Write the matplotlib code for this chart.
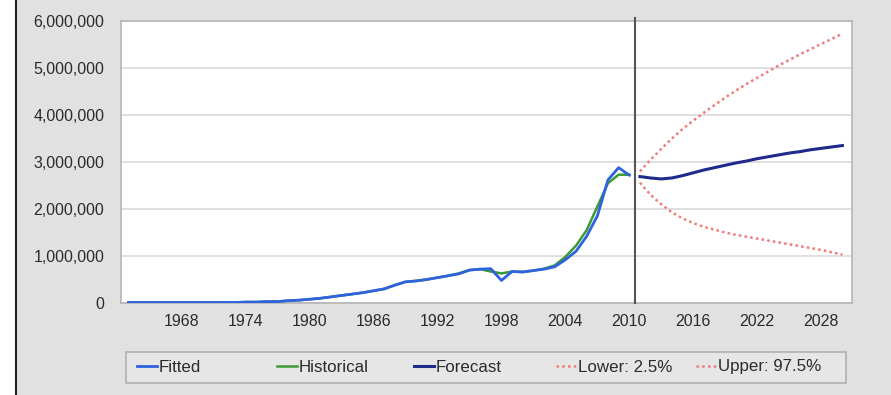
import matplotlib.pyplot as plt
from matplotlib.ticker import FuncFormatter
from matplotlib.patches import Rectangle
from matplotlib.lines import Line2D

plt.rcParams['font.family'] = ['Liberation Sans', 'DejaVu Sans']

# yearly history, 1963-2010
hist_years = list(range(1963, 2011))
historical = [0.01, 0.01, 0.01, 0.01, 0.01, 0.01, 0.01, 0.01, 0.01, 0.01,
              0.01, 0.02, 0.02, 0.03, 0.03, 0.05, 0.06, 0.08, 0.10, 0.13,
              0.16, 0.19, 0.22, 0.26, 0.30, 0.38, 0.45, 0.47, 0.50, 0.54,
              0.58, 0.63, 0.70, 0.72, 0.67, 0.63, 0.67, 0.66, 0.69, 0.73,
              0.80, 0.98, 1.22, 1.55, 2.05, 2.55, 2.73, 2.73]
fitted = [0.01, 0.01, 0.01, 0.01, 0.01, 0.01, 0.01, 0.01, 0.01, 0.01,
          0.01, 0.02, 0.02, 0.03, 0.03, 0.05, 0.06, 0.08, 0.10, 0.13,
          0.16, 0.19, 0.22, 0.26, 0.30, 0.38, 0.45, 0.47, 0.50, 0.54,
          0.58, 0.62, 0.70, 0.72, 0.73, 0.48, 0.67, 0.66, 0.69, 0.72,
          0.77, 0.92, 1.10, 1.42, 1.85, 2.62, 2.88, 2.72]

# forecast with 95% band, 2011-2030
fc_years = list(range(2011, 2031))
forecast = [2.69, 2.66, 2.64, 2.66, 2.71, 2.77, 2.83, 2.88, 2.93, 2.98,
            3.02, 3.07, 3.11, 3.15, 3.19, 3.22, 3.26, 3.29, 3.32, 3.35]
lower = [2.56, 2.30, 2.10, 1.93, 1.80, 1.70, 1.62, 1.56, 1.50, 1.45,
         1.41, 1.37, 1.33, 1.29, 1.25, 1.21, 1.17, 1.13, 1.08, 1.03]
upper = [2.80, 3.05, 3.28, 3.50, 3.70, 3.88, 4.05, 4.21, 4.37, 4.52,
         4.66, 4.79, 4.92, 5.05, 5.17, 5.29, 5.40, 5.51, 5.62, 5.73]

xticks = [1968, 1974, 1980, 1986, 1992, 1998, 2004, 2010, 2016, 2022, 2028]
yticks = [0, 1, 2, 3, 4, 5, 6]

scale = 1e6
bg = '#e1e1e1'
text_color = '#2b2b2b'
fs = 11.5

fig = plt.figure(figsize=(8.91, 3.95), dpi=100)
fig.patch.set_facecolor(bg)

# white strip and dark rule on the left edge
fig.patches.append(Rectangle((0, 0), 15 / 891, 1, transform=fig.transFigure,
                             facecolor='white', edgecolor='none', zorder=0))
fig.add_artist(Line2D([15.5 / 891, 15.5 / 891], [0, 1], transform=fig.transFigure,
                      color='#222222', lw=1.5))

ax = fig.add_axes([121 / 891, 1 - 303 / 395, 731 / 891, 282 / 395])
ax.set_facecolor('white')

ax.plot(hist_years, [v * scale for v in historical], color='#3c9a35', lw=1.8, label='Historical', zorder=3)
ax.plot(hist_years, [v * scale for v in fitted], color='#2f62e0', lw=2.0, label='Fitted', zorder=4)
ax.plot(fc_years, [v * scale for v in forecast], color='#1f2a8c', lw=2.2, label='Forecast', zorder=4)
dots = (0, (1, 1.3))
ax.plot(fc_years, [v * scale for v in lower], color='#f07a7a', lw=1.8, ls=dots, label='Lower: 2.5%', zorder=3)
ax.plot(fc_years, [v * scale for v in upper], color='#f07a7a', lw=1.8, ls=dots, label='Upper: 97.5%', zorder=3)

ax.axvline(2010.5, ymax=1.01, color='#555555', lw=1.5, zorder=5, clip_on=False)

ax.set_xlim(1962.3, 2030.9)
ax.set_ylim(0, 6 * scale)
ax.set_xticks(xticks)
ax.set_yticks([v * scale for v in yticks])
ax.yaxis.set_major_formatter(FuncFormatter(lambda v, p: f'{int(v):,}'))
ax.grid(axis='y', color='#d9d9d9', lw=1.2)
ax.set_axisbelow(True)
ax.tick_params(length=0, labelsize=fs, colors=text_color)
ax.tick_params(axis='y', pad=12)
ax.tick_params(axis='x', pad=8)
for s in ax.spines.values():
    s.set_color('#b5b5b5')
    s.set_linewidth(1.2)

# legend: boxed strip with evenly spaced entries
fig.patches.append(Rectangle((126 / 891, 1 - 383 / 395), 720 / 891, 31 / 395,
                             transform=fig.transFigure, facecolor='#e6e6e6',
                             edgecolor='#b0b0b0', lw=1.2, zorder=1))
handles, labels = ax.get_legend_handles_labels()
order = [1, 0, 2, 3, 4]
entry_x = [137, 277, 414, 556, 696]
for i, x in zip(order, entry_x):
    leg = fig.legend([handles[i]], [labels[i]], loc='center left',
                     bbox_to_anchor=(x / 891, 1 - 367 / 395),
                     fontsize=12.2, handlelength=1.2, handletextpad=0.1,
                     frameon=False, borderaxespad=0, borderpad=0)
    for t in leg.get_texts():
        t.set_color(text_color)

fig.savefig('out.png', dpi=100, facecolor=fig.get_facecolor())
